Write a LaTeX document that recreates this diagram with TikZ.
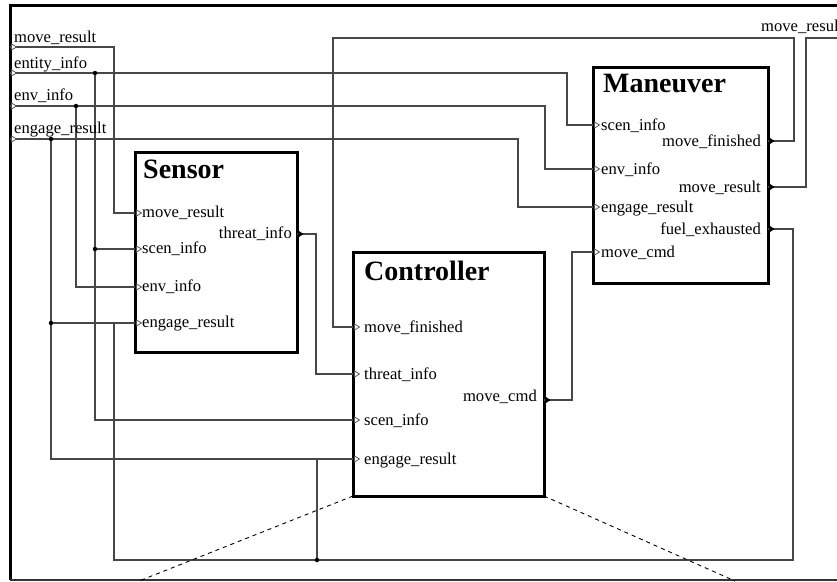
\documentclass[tikz,border=0pt]{standalone}
\usepackage{fontspec}
\setmainfont{Liberation Serif}
\begin{document}
\begin{tikzpicture}[x=1pt,y=-1pt,
  blk/.style={draw=black,line width=3pt,inner sep=0,outer sep=0},
  wire/.style={draw=black!72,line width=1.1pt},
  plab/.style={inner sep=0,font=\fontsize{16.6}{18}\selectfont},
  inlab/.style={plab,anchor=base west},
  outlab/.style={plab,anchor=base east},
  ttl/.style={inner sep=0,font=\fontsize{28}{30}\selectfont\bfseries,anchor=base west},
  jdot/.style={circle,fill=black,inner sep=0,minimum size=4.5pt},
  frame/.style={line width=3pt,draw=black},
  intri/.style={draw=black!70,line width=0.7pt,fill=white},
  outtri/.style={draw=black,line width=0.5pt,fill=black},
  proj/.style={draw=black,line width=0.9pt,dash pattern=on 4pt off 4pt}]
\useasboundingbox (0,0) rectangle (837,581);

% frame
\draw[frame] (10,580) -- (10,5) -- (837,5);
\draw[line width=1.5pt,draw=black!80] (10,580) -- (837,580);

% blocks
\node[blk,minimum width=162pt,minimum height=200pt] (S) at (216,252) {};
\node[blk,minimum width=191pt,minimum height=244pt] (C) at (448.5,374) {};
\node[blk,minimum width=175pt,minimum height=216pt] (M) at (680.5,175) {};
\node[ttl] (St) at (143,178) {Sensor};
\node[ttl] (Ct) at (364,280) {Controller};
\node[ttl] (Mt) at (603,92) {Maneuver};

% ports
\coordinate (E1) at (10,47);
\coordinate (E2) at (10,73);
\coordinate (E3) at (10,106);
\coordinate (E4) at (10,139);
\coordinate (Eo) at (837,38);
\coordinate (Smr) at (135,213);
\coordinate (Ssi) at (135,249);
\coordinate (Sei) at (135,287);
\coordinate (Ser) at (135,323);
\coordinate (Sti) at (297,234);
\coordinate (Cmf) at (353,327);
\coordinate (Cti) at (353,374);
\coordinate (Csi) at (353,420);
\coordinate (Cer) at (353,459);
\coordinate (Cmc) at (544,400);
\coordinate (Msi) at (593,125);
\coordinate (Mei) at (593,169);
\coordinate (Mer) at (593,207);
\coordinate (Mmc) at (593,252);
\coordinate (Mmf) at (768,141);
\coordinate (Mmr) at (768,187);
\coordinate (Mfe) at (768,229);

% junctions
\coordinate (J2) at (95,73);
\coordinate (J2b) at (95,249);
\coordinate (J3) at (76,106);
\coordinate (J4) at (51,139);
\coordinate (J4b) at (51,323);
\coordinate (J5) at (317,560);

% wires
\draw[wire] (E1) -| (114,213) -- (Smr);
\draw[wire] (E2) -| (567,125) -- (Msi);
\draw[wire] (E3) -| (545,169) -- (Mei);
\draw[wire] (E4) -| (518,207) -- (Mer);
\draw[wire] (J2) |- (Csi);
\draw[wire] (J2b) -- (Ssi);
\draw[wire] (J3) |- (Sei);
\draw[wire] (J4) |- (Cer);
\draw[wire] (J4b) -- (Ser);
\draw[wire] (Sti) -| (316,374) -- (Cti);
\draw[wire] (Cmc) -| (572,252) -- (Mmc);
\draw[wire] (Mmf) -| (794,38) -| (333,327) -- (Cmf);
\draw[wire] (Mmr) -| (806,38) -- (Eo);
\draw[wire] (Mfe) -| (793,560) -| (114,323);
\draw[wire] (J5) -- (317,459);
\foreach \j in {J2,J2b,J3,J4,J4b,J5} \node[jdot] at (\j) {};

% port markers
\foreach \p in {E1,E2,E3,E4}
  \draw[intri] ([xshift=1.5pt,yshift=3pt]\p) -- ([xshift=6.5pt]\p) -- ([xshift=1.5pt,yshift=-3pt]\p) -- cycle;
\foreach \p in {Smr,Ssi,Sei,Ser,Cmf,Cti,Csi,Cer,Msi,Mei,Mer,Mmc}
  \draw[intri] ([xshift=1.5pt,yshift=3pt]\p) -- ([xshift=6.5pt]\p) -- ([xshift=1.5pt,yshift=-3pt]\p) -- cycle;
\foreach \p in {Sti,Cmc,Mmf,Mmr,Mfe}
  \draw[outtri] ([xshift=1.5pt,yshift=3pt]\p) -- ([xshift=6pt]\p) -- ([xshift=1.5pt,yshift=-3pt]\p) -- cycle;

% projection lines
\draw[proj] (C.south west) -- (139,581);
\draw[proj] (C.south east) -- (735,581);

% external labels
\node[inlab] at (14,42) {move\_result};
\node[inlab] at (14,68) {entity\_info};
\node[inlab] at (14,100) {env\_info};
\node[inlab] at (14,133) {engage\_result};
\node[inlab] at (761,31) {move\_result};

% sensor labels
\node[inlab,xshift=7pt,yshift=-4pt] at (Smr) {move\_result};
\node[inlab,xshift=7pt,yshift=-4pt] at (Ssi) {scen\_info};
\node[inlab,xshift=7pt,yshift=-4pt] at (Sei) {env\_info};
\node[inlab,xshift=7pt,yshift=-4pt] at (Ser) {engage\_result};
\node[outlab,xshift=-5pt,yshift=-4pt] at (Sti) {threat\_info};

% controller labels
\node[inlab,xshift=11pt,yshift=-5pt] at (Cmf) {move\_finished};
\node[inlab,xshift=11pt,yshift=-5pt] at (Cti) {threat\_info};
\node[inlab,xshift=11pt,yshift=-5pt] at (Csi) {scen\_info};
\node[inlab,xshift=11pt,yshift=-5pt] at (Cer) {engage\_result};
\node[outlab,xshift=-7pt,yshift=-1pt] at (Cmc) {move\_cmd};

% maneuver labels
\node[inlab,xshift=8pt,yshift=-5pt] at (Msi) {scen\_info};
\node[inlab,xshift=8pt,yshift=-5pt] at (Mei) {env\_info};
\node[inlab,xshift=8pt,yshift=-5pt] at (Mer) {engage\_result};
\node[inlab,xshift=8pt,yshift=-5pt] at (Mmc) {move\_cmd};
\node[outlab,xshift=-7pt,yshift=-5pt] at (Mmf) {move\_finished};
\node[outlab,xshift=-7pt,yshift=-5pt] at (Mmr) {move\_result};
\node[outlab,xshift=-7pt,yshift=-5pt] at (Mfe) {fuel\_exhausted};
\end{tikzpicture}
\end{document}
